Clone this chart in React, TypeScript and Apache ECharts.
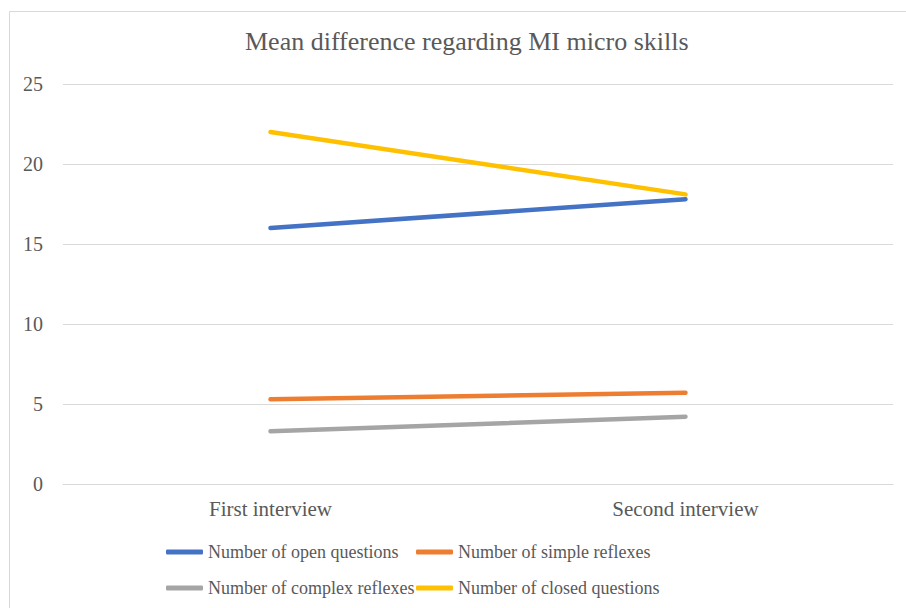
import React, { useEffect, useRef } from "react";
import * as echarts from "echarts";

const categories = ["First interview", "Second interview"];
const openQuestions = [16.0, 17.8];
const simpleReflexes = [5.3, 5.7];
const complexReflexes = [3.3, 4.2];
const closedQuestions = [22.0, 18.1];
const seriesNames = [
  "Number of open questions",
  "Number of simple reflexes",
  "Number of complex reflexes",
  "Number of closed questions",
];
const colors = ["#4472C4", "#ED7D31", "#A5A5A5", "#FFC000"];

const FONT = "'Liberation Serif', 'Times New Roman', serif";
const TEXT = "#595959";

export default function App() {
  const ref = useRef<HTMLDivElement>(null);
  useEffect(() => {
    if (!ref.current) return;
    const chart = echarts.init(ref.current, null, { renderer: "svg" });
    const values = [openQuestions, simpleReflexes, complexReflexes, closedQuestions];
    const legendPos = [
      { left: 166, top: 542 },
      { left: 416, top: 542 },
      { left: 166, top: 578 },
      { left: 416, top: 578 },
    ];
    chart.setOption({
      animation: false,
      backgroundColor: "#ffffff",
      textStyle: { fontFamily: FONT },
      title: {
        text: "Mean difference regarding MI micro skills",
        left: 245,
        top: 28,
        padding: 0,
        textStyle: { fontFamily: FONT, fontSize: 26, fontWeight: "normal", color: TEXT },
      },
      graphic: [
        {
          type: "rect",
          shape: { x: 9.5, y: 11.5, width: 1200, height: 1200 },
          style: { fill: "none", stroke: "#D9D9D9", lineWidth: 1 },
          silent: true,
        },
      ],
      legend: seriesNames.map((n, i) => ({
        data: [n],
        left: legendPos[i].left,
        top: legendPos[i].top,
        padding: 0,
        itemWidth: 37,
        itemHeight: 5,
        icon: "roundRect",
        textStyle: { fontFamily: FONT, fontSize: 18, color: TEXT, lineHeight: 20 },
      })),
      grid: { left: 63, right: 13, top: 84, bottom: 124, containLabel: false },
      xAxis: {
        type: "category",
        data: categories,
        boundaryGap: true,
        axisLine: { show: true, lineStyle: { color: "#D9D9D9", width: 1 } },
        axisTick: { show: false },
        axisLabel: { fontFamily: FONT, fontSize: 21, color: TEXT, margin: 14 },
      },
      yAxis: {
        type: "value",
        min: 0,
        max: 25,
        interval: 5,
        axisLine: { show: false },
        axisTick: { show: false },
        axisLabel: { fontFamily: FONT, fontSize: 20, color: TEXT, margin: 20 },
        splitLine: { lineStyle: { color: "#D9D9D9", width: 1 } },
      },
      series: seriesNames.map((n, i) => ({
        name: n,
        type: "line",
        data: values[i],
        symbol: "none",
        color: colors[i],
        lineStyle: { width: 4.5, color: colors[i], cap: "round" },
      })),
    });
    return () => chart.dispose();
  }, []);
  return (
    <div
      ref={ref}
      style={{ position: "fixed", left: 0, top: 0, width: 906, height: 608 }}
    />
  );
}
